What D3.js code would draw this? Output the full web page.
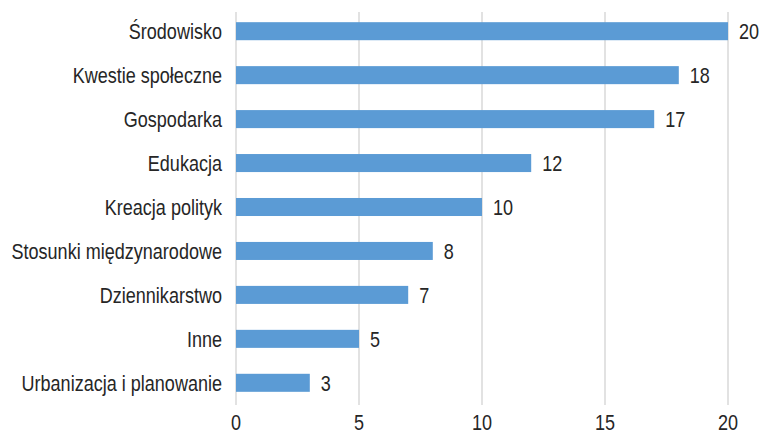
<!DOCTYPE html>
<html>
<head>
<meta charset="utf-8">
<script src="https://cdn.jsdelivr.net/npm/d3@7"></script>
<style>
  body { margin: 0; background: #fff; }
  text { font-family: "Liberation Sans", Arial, sans-serif; fill: #262626; font-size: 22px; }
</style>
</head>
<body>
<svg id="chart"></svg>
<script>
const categories = ["Środowisko", "Kwestie społeczne", "Gospodarka", "Edukacja", "Kreacja polityk",
  "Stosunki międzynarodowe", "Dziennikarstwo", "Inne", "Urbanizacja i planowanie"];
const values = [20, 18, 17, 12, 10, 8, 7, 5, 3];
const xTicks = [0, 5, 10, 15, 20];

const width = 765, height = 433;
const margin = {top: 9, right: 37, bottom: 28, left: 236};
const squeeze = 0.82; // condensed look

const svg = d3.select("#chart").attr("width", width).attr("height", height);
const g = svg.append("g").attr("transform", "translate(" + margin.left + "," + margin.top + ")");
const w = width - margin.left - margin.right;

const x = d3.scaleLinear().domain([0, 20]).range([0, w]);
const y = d3.scaleBand().domain(categories).range([0, 396]).paddingInner(0.59).paddingOuter(0.3);

function place(px, py) {
  return "translate(" + px + "," + py + ") scale(" + squeeze + ",1)";
}

// gridlines
g.selectAll(".grid").data(xTicks).join("line")
  .attr("x1", d => x(d)).attr("x2", d => x(d))
  .attr("y1", 3).attr("y2", 396)
  .attr("stroke", "#d9d9d9").attr("stroke-width", 1.5);

// bars
g.selectAll(".bar").data(values).join("rect")
  .attr("x", x(0))
  .attr("y", (d, i) => y(categories[i]))
  .attr("width", d => x(d) - x(0))
  .attr("height", y.bandwidth())
  .attr("fill", "#5b9bd5");

// value labels
g.selectAll(".val").data(values).join("text")
  .attr("transform", (d, i) => place(x(d) + 11, y(categories[i]) + y.bandwidth() / 2))
  .attr("dy", "0.36em")
  .text(d => d);

// category labels
g.selectAll(".cat").data(categories).join("text")
  .attr("transform", d => place(-14, y(d) + y.bandwidth() / 2))
  .attr("dy", "0.36em")
  .attr("text-anchor", "end")
  .text(d => d);

// x axis labels
g.selectAll(".tick").data(xTicks).join("text")
  .attr("transform", d => place(x(d), 413))
  .attr("dy", "0.36em")
  .attr("text-anchor", "middle")
  .text(d => d);
</script>
</body>
</html>
